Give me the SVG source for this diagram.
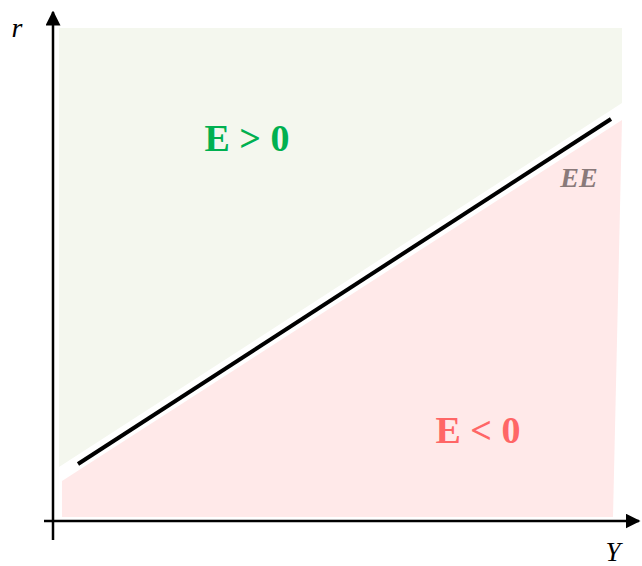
<svg xmlns="http://www.w3.org/2000/svg" width="642" height="566" viewBox="0 0 642 566">
<style>
.ax{stroke:#000;stroke-width:2.5;fill:none}
.t{font-family:"Liberation Serif","Times New Roman",serif}
</style>
<defs>
<marker id="ah" viewBox="0 0 10 10" refX="9" refY="5" markerWidth="6" markerHeight="6" orient="auto" markerUnits="strokeWidth">
<path d="M0,0 L10,5 L0,10 Z" fill="#000"/>
</marker>
</defs>
<rect width="642" height="566" fill="#fff"/>
<g id="region-pos">
<polygon points="59,28 622,28 622,103 59,467" fill="#f4f7ee"/>
<text class="t" x="247" y="151" font-size="38" font-weight="bold" fill="#00b050" text-anchor="middle">E &gt; 0</text>
</g>
<g id="region-neg">
<polygon points="62,481 622,120 613,517 62,517" fill="#ffe9e9"/>
<text class="t" x="478" y="443" font-size="38" font-weight="bold" fill="#ff6666" text-anchor="middle">E &lt; 0</text>
</g>
<g id="connectors">
<line class="ax" x1="53" y1="540" x2="53" y2="12" marker-end="url(#ah)"/>
<line class="ax" x1="44" y1="521" x2="639" y2="521" marker-end="url(#ah)"/>
<line x1="78" y1="464" x2="611" y2="119" stroke="#000" stroke-width="4"/>
</g>
<g id="labels">
<text class="t" x="17" y="37" font-size="28" font-style="italic" text-anchor="middle">r</text>
<text class="t" x="613" y="561" font-size="27" font-style="italic" text-anchor="middle">Y</text>
<text class="t" x="579" y="187" font-size="28" font-style="italic" font-weight="bold" fill="#8a7a7a" text-anchor="middle">EE</text>
</g>
</svg>
